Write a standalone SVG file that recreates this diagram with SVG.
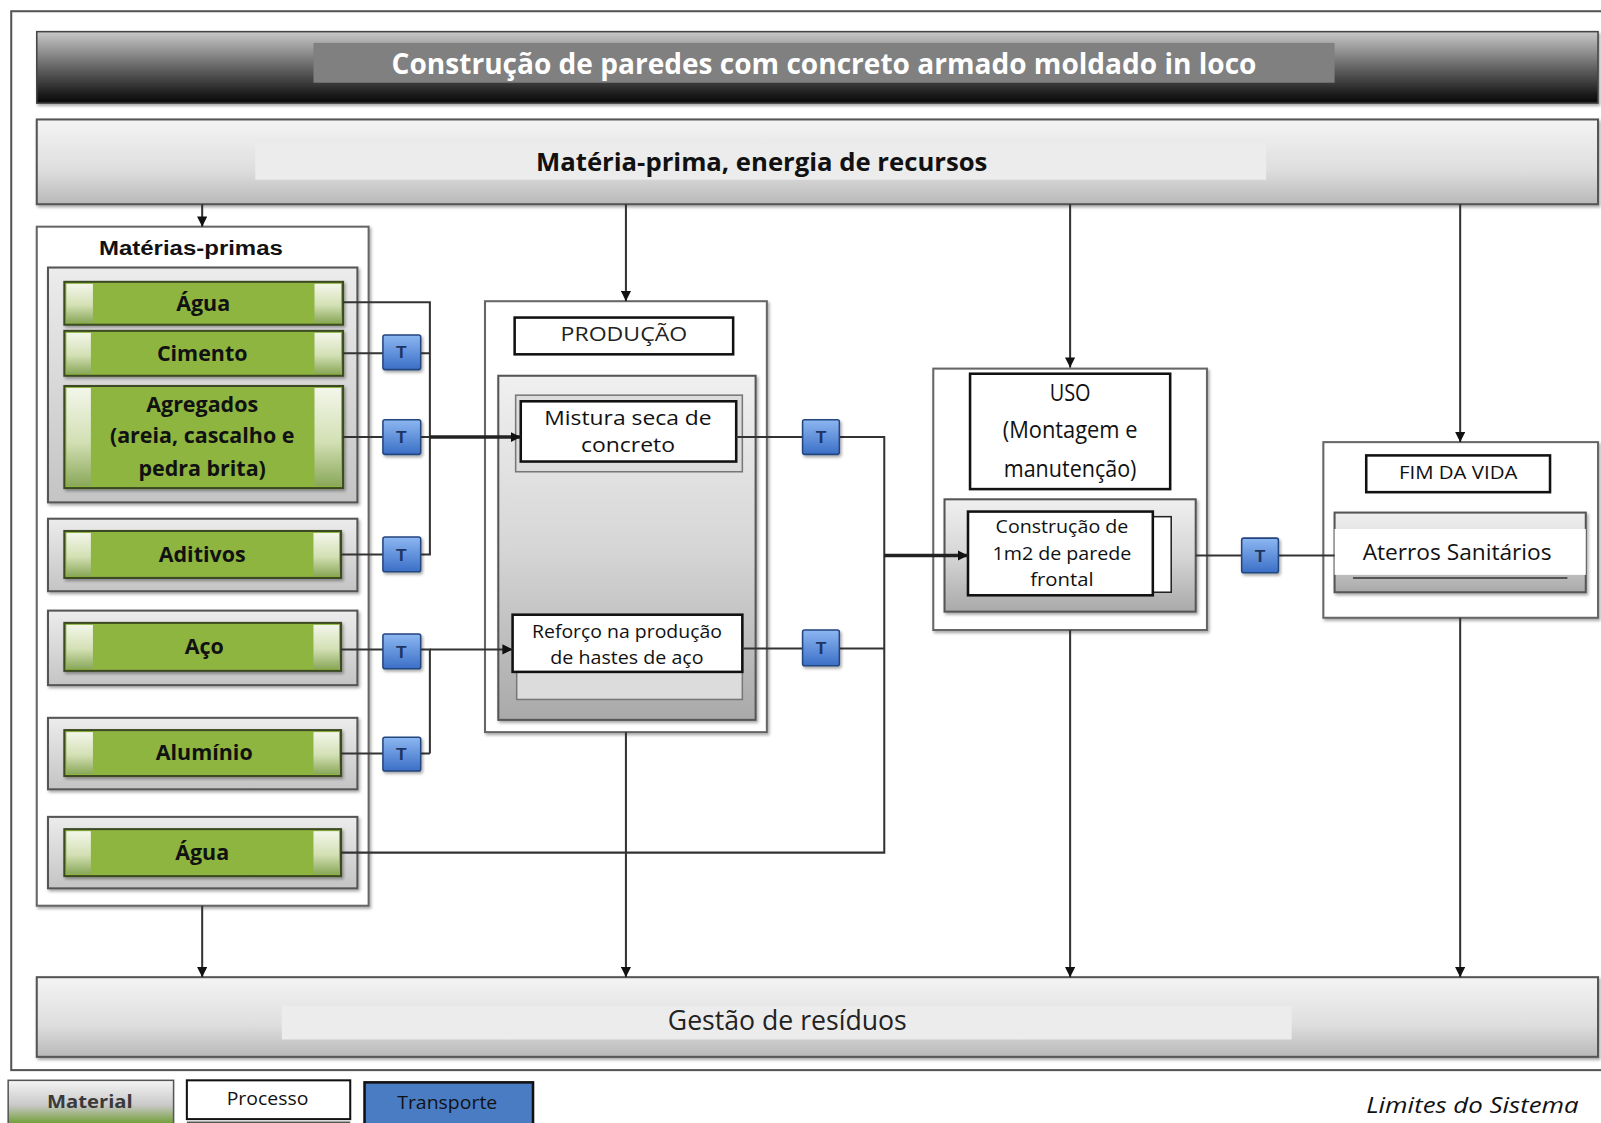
<svg xmlns="http://www.w3.org/2000/svg" width="1601" height="1123" viewBox="0 0 1601 1123">
<style>
.t{font-family:"Open Sans","Liberation Sans",sans-serif;text-anchor:middle}
.b{font-weight:bold}
.mat{font-family:"Open Sans","Liberation Sans",sans-serif;font-weight:bold;font-size:21px;text-anchor:middle;fill:#111}
.grp{fill:url(#gGray);stroke:#555;stroke-width:2;filter:url(#sh)}
.bar{fill:#8db53f;stroke:#3c4a22;stroke-width:2;filter:url(#sh)}
.cap{fill:url(#gCap)}
.proc{fill:#fff;stroke:#111;stroke-width:2.5}
.cont{fill:#fff;stroke:#666;stroke-width:2;filter:url(#sh)}
.tb{fill:url(#gBlue);stroke:#24467e;stroke-width:1.5;filter:url(#sh)}
.tl{font-family:"Liberation Sans",sans-serif;font-size:17px;font-weight:bold;fill:#1d3561;text-anchor:middle}
.ln{fill:none;stroke:#333;stroke-width:2}
.lk{fill:none;stroke:#222;stroke-width:3.5}
</style>
<defs>
<linearGradient id="gTitle" x1="0" y1="0" x2="0" y2="1"><stop offset="0" stop-color="#c9c9c9"/><stop offset="0.45" stop-color="#6e6e6e"/><stop offset="1" stop-color="#050505"/></linearGradient>
<linearGradient id="gBar" x1="0" y1="0" x2="0" y2="1"><stop offset="0" stop-color="#f4f4f4"/><stop offset="0.6" stop-color="#dedede"/><stop offset="1" stop-color="#b8b8b8"/></linearGradient>
<linearGradient id="gGray" x1="0" y1="0" x2="0" y2="1"><stop offset="0" stop-color="#ececec"/><stop offset="1" stop-color="#c4c4c4"/></linearGradient>
<linearGradient id="gProd" x1="0" y1="0" x2="0" y2="1"><stop offset="0" stop-color="#f0f0f0"/><stop offset="0.5" stop-color="#d6d6d6"/><stop offset="1" stop-color="#a9a9a9"/></linearGradient>
<linearGradient id="gCap" x1="0" y1="0" x2="0" y2="1"><stop offset="0" stop-color="#f3f6ea"/><stop offset="0.55" stop-color="#d3e0b4"/><stop offset="1" stop-color="#8aa85a"/></linearGradient>
<linearGradient id="gBlue" x1="0" y1="0" x2="0" y2="1"><stop offset="0" stop-color="#8db7f2"/><stop offset="1" stop-color="#3b6fc6"/></linearGradient>
<linearGradient id="gLegM" x1="0" y1="0" x2="0" y2="1"><stop offset="0" stop-color="#f4f4f4"/><stop offset="0.55" stop-color="#c9c9c9"/><stop offset="1" stop-color="#6a9a2a"/></linearGradient>
<filter id="sh" x="-5%" y="-5%" width="115%" height="125%"><feDropShadow dx="1.5" dy="2" stdDeviation="1.5" flood-color="#000" flood-opacity="0.35"/></filter>
<marker id="ar" viewBox="0 0 10 10" refX="10" refY="5" markerWidth="10" markerHeight="10" markerUnits="userSpaceOnUse" orient="auto"><path d="M0,0 L10,5 L0,10 z" fill="#111"/></marker>
</defs>
<rect width="1601" height="1123" fill="#fff"/>
<g transform="scale(1.0211)">
<rect x="11" y="11" width="1570" height="1037" fill="none" stroke="#555" stroke-width="2"/>

<g id="titulo">
<rect x="36" y="31" width="1529" height="70" fill="url(#gTitle)" stroke="#444" stroke-width="1.5" filter="url(#sh)"/>
<rect x="307" y="42" width="1000" height="39" fill="#808080"/>
<text class="t b" x="807" y="72" font-size="28" fill="#fff" textLength="847" lengthAdjust="spacingAndGlyphs">Construção de paredes com concreto armado moldado in loco</text>
</g>

<g id="recursos">
<rect x="36" y="117" width="1529" height="83" fill="url(#gBar)" stroke="#555" stroke-width="2" filter="url(#sh)"/>
<rect x="250" y="140" width="990" height="36" fill="#ececec"/>
<text class="t b" x="746" y="167" font-size="24" fill="#111" textLength="442" lengthAdjust="spacingAndGlyphs">Matéria-prima, energia de recursos</text>
</g>

<g id="residuos">
<rect x="36" y="957" width="1529" height="78" fill="url(#gBar)" stroke="#555" stroke-width="2" filter="url(#sh)"/>
<rect x="276" y="985" width="989" height="33" fill="#ececec"/>
<text class="t" x="771" y="1009" font-size="26" fill="#222" textLength="234" lengthAdjust="spacingAndGlyphs">Gestão de resíduos</text>
</g>

<g id="materias-primas">
<rect x="36" y="222" width="325" height="665" fill="#fff" stroke="#666" stroke-width="2" filter="url(#sh)"/>
<text x="187" y="250" font-family="Liberation Sans,Arial,sans-serif" font-weight="bold" font-size="20" text-anchor="middle" fill="#111" textLength="180" lengthAdjust="spacingAndGlyphs">Matérias-primas</text>
</g>

<g id="grupo-concreto">
<rect class="grp" x="47" y="262" width="303" height="230"/>
</g>
<g id="agua1">
<rect class="bar" x="63" y="276" width="273" height="42"/>
<rect class="cap" x="65" y="278" width="26" height="38"/><rect class="cap" x="308" y="278" width="26" height="38"/>
<text class="mat" x="199" y="305">Água</text>
</g>
<g id="cimento">
<rect class="bar" x="63" y="324" width="273" height="44"/>
<rect class="cap" x="65" y="326" width="24" height="40"/><rect class="cap" x="308" y="326" width="26" height="40"/>
<text class="mat" x="198" y="354">Cimento</text>
</g>
<g id="agregados">
<rect class="bar" x="63" y="378" width="273" height="100"/>
<rect class="cap" x="65" y="380" width="24" height="96"/><rect class="cap" x="308" y="380" width="26" height="96"/>
<text class="mat" x="198" y="403">Agregados</text>
<text class="mat" x="198" y="434">(areia, cascalho e</text>
<text class="mat" x="198" y="466">pedra brita)</text>
</g>
<g id="aditivos">
<rect class="grp" x="47" y="508" width="303" height="71"/>
<rect class="bar" x="63" y="520" width="271" height="46"/>
<rect class="cap" x="65" y="522" width="24" height="42"/><rect class="cap" x="307" y="522" width="25" height="42"/>
<text class="mat" x="198" y="550">Aditivos</text>
</g>
<g id="aco">
<rect class="grp" x="47" y="598" width="303" height="73"/>
<rect class="bar" x="63" y="610" width="271" height="47"/>
<rect class="cap" x="65" y="612" width="26" height="43"/><rect class="cap" x="307" y="612" width="25" height="43"/>
<text class="mat" x="200" y="640">Aço</text>
</g>
<g id="aluminio">
<rect class="grp" x="47" y="703" width="303" height="70"/>
<rect class="bar" x="63" y="715" width="271" height="45"/>
<rect class="cap" x="65" y="717" width="26" height="41"/><rect class="cap" x="307" y="717" width="25" height="41"/>
<text class="mat" x="200" y="744">Alumínio</text>
</g>
<g id="agua2">
<rect class="grp" x="47" y="800" width="303" height="70"/>
<rect class="bar" x="63" y="812" width="271" height="46"/>
<rect class="cap" x="65" y="814" width="24" height="42"/><rect class="cap" x="307" y="814" width="25" height="42"/>
<text class="mat" x="198" y="842">Água</text>
</g>

<g id="producao">
<rect class="cont" x="475" y="295" width="276" height="422"/>
<rect class="proc" x="504" y="311" width="214" height="36" stroke-width="2"/>
<text class="t" x="611" y="334" font-size="19" fill="#222" textLength="124" lengthAdjust="spacingAndGlyphs">PRODUÇÃO</text>
<rect x="488" y="368" width="252" height="337" fill="url(#gProd)" stroke="#555" stroke-width="2" filter="url(#sh)"/>
</g>
<g id="mistura">
<rect x="505" y="387" width="222" height="75" fill="#dcdcdc" stroke="#777" stroke-width="1.5"/>
<rect class="proc" x="510" y="393" width="211" height="59"/>
<text class="t" x="615" y="416" font-size="19" fill="#111" textLength="164" lengthAdjust="spacingAndGlyphs">Mistura seca de</text>
<text class="t" x="615" y="443" font-size="19" fill="#111" textLength="92" lengthAdjust="spacingAndGlyphs">concreto</text>
</g>
<g id="reforco">
<rect x="506" y="611" width="221" height="74" fill="#dcdcdc" stroke="#777" stroke-width="1.5"/>
<rect class="proc" x="502" y="602" width="225" height="56"/>
<text class="t" x="614" y="625" font-size="18" fill="#111" textLength="186" lengthAdjust="spacingAndGlyphs">Reforço na produção</text>
<text class="t" x="614" y="650" font-size="18" fill="#111" textLength="150" lengthAdjust="spacingAndGlyphs">de hastes de aço</text>
</g>

<g id="uso">
<rect class="cont" x="914" y="361" width="268" height="256"/>
<rect class="proc" x="950" y="366" width="196" height="113"/>
<text class="t" x="1048" y="393" font-size="24" fill="#111" textLength="40" lengthAdjust="spacingAndGlyphs">USO</text>
<text class="t" x="1048" y="429" font-size="24" fill="#111" textLength="132" lengthAdjust="spacingAndGlyphs">(Montagem e</text>
<text class="t" x="1048" y="467" font-size="24" fill="#111" textLength="130" lengthAdjust="spacingAndGlyphs">manutenção)</text>
<rect x="925" y="489" width="246" height="110" fill="url(#gProd)" stroke="#555" stroke-width="2" filter="url(#sh)"/>
</g>
<g id="construcao">
<rect x="960" y="506" width="187" height="74" fill="#fff" stroke="#222" stroke-width="1.5"/>
<rect class="proc" x="948" y="501" width="181" height="82"/>
<text class="t" x="1040" y="522" font-size="18" fill="#111" textLength="130" lengthAdjust="spacingAndGlyphs">Construção de</text>
<text class="t" x="1040" y="548" font-size="18" fill="#111" textLength="136" lengthAdjust="spacingAndGlyphs">1m2 de parede</text>
<text class="t" x="1040" y="574" font-size="18" fill="#111" textLength="62" lengthAdjust="spacingAndGlyphs">frontal</text>
</g>

<g id="fim-da-vida">
<rect class="cont" x="1296" y="433" width="269" height="172"/>
<rect class="proc" x="1338" y="446" width="180" height="36" stroke-width="2"/>
<text class="t" x="1428" y="469" font-size="17" fill="#111" textLength="116" lengthAdjust="spacingAndGlyphs">FIM DA VIDA</text>
</g>
<g id="aterros">
<rect x="1307" y="502" width="246" height="78" fill="url(#gProd)" stroke="#555" stroke-width="2" filter="url(#sh)"/>
<rect x="1307" y="518" width="246" height="45" fill="#fff"/>
<line x1="1325" y1="566" x2="1535" y2="566" stroke="#333" stroke-width="1.5"/>
<text class="t" x="1427" y="548" font-size="22" fill="#111" textLength="185" lengthAdjust="spacingAndGlyphs">Aterros Sanitários</text>
</g>

<g id="conectores">
<line class="ln" x1="198" y1="200" x2="198" y2="222" marker-end="url(#ar)"/>
<line class="ln" x1="613" y1="200" x2="613" y2="295" marker-end="url(#ar)"/>
<line class="ln" x1="1048" y1="200" x2="1048" y2="360" marker-end="url(#ar)"/>
<line class="ln" x1="1430" y1="200" x2="1430" y2="433" marker-end="url(#ar)"/>
<line class="ln" x1="198" y1="887" x2="198" y2="957" marker-end="url(#ar)"/>
<line class="ln" x1="613" y1="717" x2="613" y2="957" marker-end="url(#ar)"/>
<line class="ln" x1="1048" y1="617" x2="1048" y2="957" marker-end="url(#ar)"/>
<line class="ln" x1="1430" y1="605" x2="1430" y2="957" marker-end="url(#ar)"/>
<path class="ln" d="M336,296 H421 V544 M336,346 H421 M336,428 H421 M334,543 H421"/>
<line class="lk" x1="421" y1="428" x2="510" y2="428" marker-end="url(#ar)"/>
<path class="ln" d="M334,636 H421 V738 M334,738 H421"/>
<line class="ln" x1="421" y1="636" x2="502" y2="636" marker-end="url(#ar)"/>
<path class="ln" d="M334,835 H866 V428 H721 M727,635 H866"/>
<line class="lk" x1="866" y1="544" x2="948" y2="544" marker-end="url(#ar)"/>
<path class="ln" d="M1171,544 H1307"/>
</g>

<g id="t-cimento"><rect class="tb" x="375" y="328" width="37" height="34" rx="2"/><text class="tl" x="393" y="351">T</text></g>
<g id="t-agregados"><rect class="tb" x="375" y="411" width="37" height="34" rx="2"/><text class="tl" x="393" y="434">T</text></g>
<g id="t-aditivos"><rect class="tb" x="375" y="526" width="37" height="34" rx="2"/><text class="tl" x="393" y="549">T</text></g>
<g id="t-aco"><rect class="tb" x="375" y="621" width="37" height="34" rx="2"/><text class="tl" x="393" y="644">T</text></g>
<g id="t-aluminio"><rect class="tb" x="375" y="722" width="37" height="33" rx="2"/><text class="tl" x="393" y="744">T</text></g>
<g id="t-mistura"><rect class="tb" x="786" y="411" width="36" height="34" rx="2"/><text class="tl" x="804" y="434">T</text></g>
<g id="t-reforco"><rect class="tb" x="786" y="617" width="36" height="35" rx="2"/><text class="tl" x="804" y="640">T</text></g>
<g id="t-uso"><rect class="tb" x="1216" y="527" width="36" height="34" rx="2"/><text class="tl" x="1234" y="550">T</text></g>

<g id="legenda">
<rect x="8" y="1058" width="162" height="44" fill="url(#gLegM)" stroke="#555" stroke-width="1.5"/>
<text class="t b" x="88" y="1085" font-size="18" fill="#3a3a3a" textLength="84" lengthAdjust="spacingAndGlyphs">Material</text>
<rect x="183" y="1058" width="160" height="38" fill="#fff" stroke="#111" stroke-width="2"/>
<line x1="183" y1="1099" x2="343" y2="1099" stroke="#555" stroke-width="1.5"/>
<text class="t" x="262" y="1082" font-size="17" fill="#111" textLength="80" lengthAdjust="spacingAndGlyphs">Processo</text>
<rect x="357" y="1060" width="165" height="42" fill="#4a7cc4" stroke="#111" stroke-width="2.5"/>
<text class="t" x="438" y="1086" font-size="17" fill="#111" textLength="98" lengthAdjust="spacingAndGlyphs">Transporte</text>
</g>
<text class="t" x="1442" y="1090" font-size="22" font-style="italic" fill="#111" textLength="208" lengthAdjust="spacingAndGlyphs">Limites do Sistema</text>
</g>
</svg>
